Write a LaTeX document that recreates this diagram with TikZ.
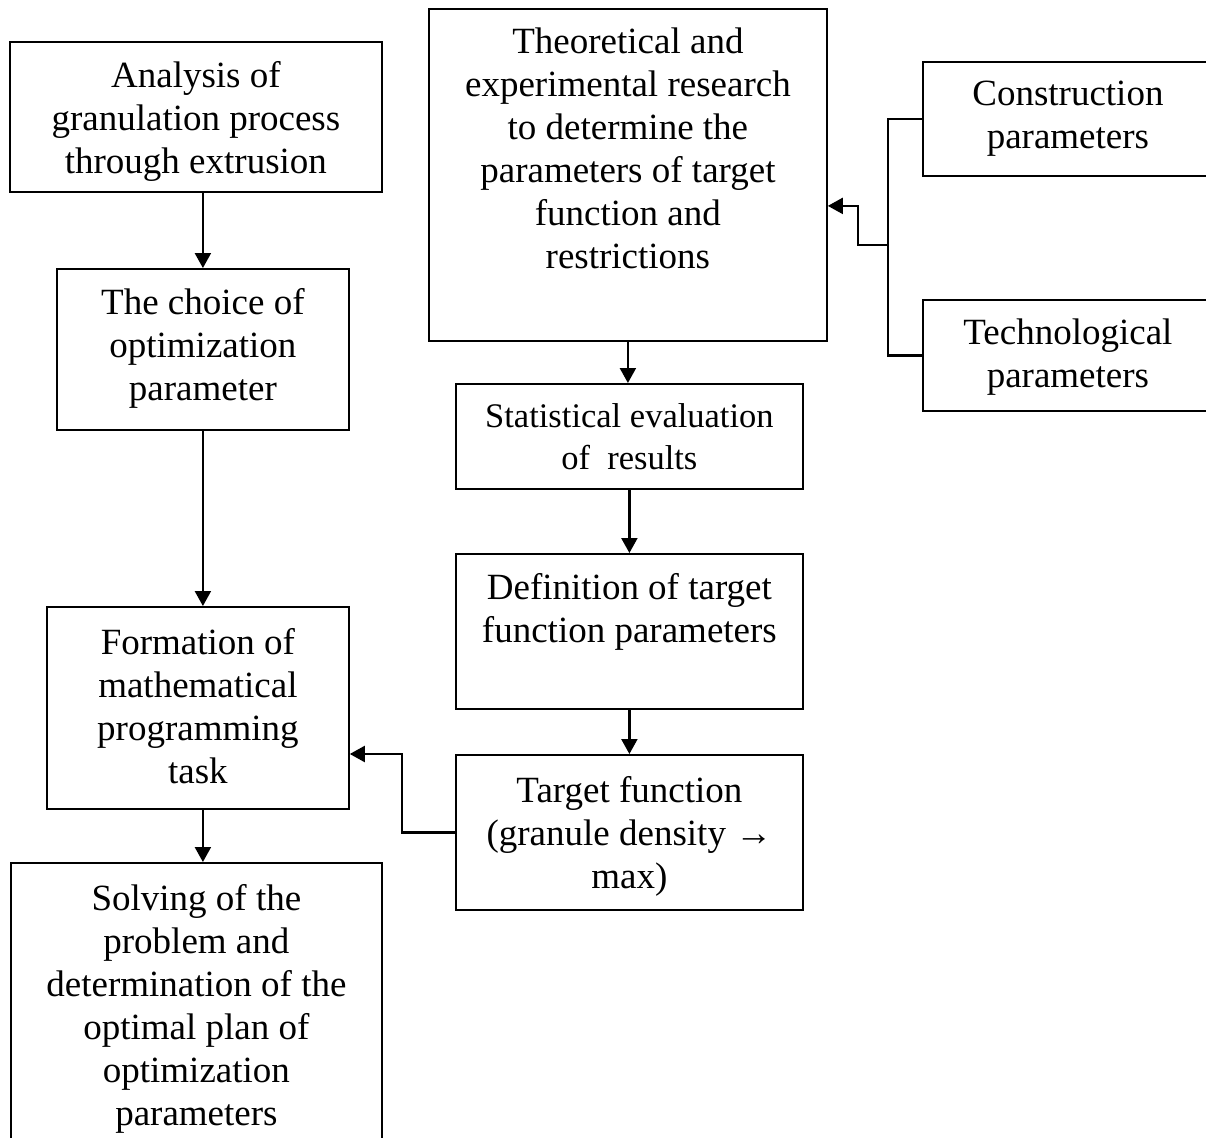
\documentclass[tikz,border=0pt]{standalone}
\usepackage{fontspec}
\setmainfont{Liberation Serif}
\usetikzlibrary{arrows.meta,calc}

\begin{document}
\begin{tikzpicture}[x=1pt, y=-1pt,
    box/.style={draw, line width=1.8pt, anchor=north west, inner sep=0pt},
    txt/.style={anchor=north, inner sep=0pt, align=center, yshift=-20pt,
      font=\fontsize{37}{43}\selectfont},
    small/.style={font=\fontsize{34.5}{42}\selectfont},
    arr/.style={line width=2.2pt, -{Triangle[length=15pt, width=16pt]}},
    link/.style={line width=2.2pt}]
    \useasboundingbox (0,0) rectangle (1206,1137);
    \clip (0,0) rectangle (1206,1137);

    % left column
    \node[box, minimum width=372pt, minimum height=150pt] (anal) at (9,41) {};
    \node[txt] (analT) at (anal.north) {Analysis of\\granulation process\\through extrusion};

    \node[box, minimum width=292pt, minimum height=161pt] (choice) at (56,268) {};
    \node[txt] (choiceT) at (choice.north) {The choice of\\optimization\\parameter};

    \node[box, minimum width=302pt, minimum height=202pt] (form) at (46,606) {};
    \node[txt, yshift=-2pt] (formT) at (form.north) {Formation of\\mathematical\\programming\\task};

    \node[box, minimum width=371pt, minimum height=290pt] (solv) at (10,862) {};
    \node[txt, yshift=-2pt] (solvT) at (solv.north) {Solving of the\\problem and\\determination of the\\optimal plan of\\optimization\\parameters};

    % middle column
    \node[box, minimum width=398pt, minimum height=332pt] (theo) at (428,8) {};
    \node[txt] (theoT) at (theo.north) {Theoretical and\\experimental research\\to determine the\\parameters of target\\function and\\restrictions};

    \node[box, minimum width=347pt, minimum height=105pt] (stat) at (455,383) {};
    \node[txt, small] (statT) at (stat.north) {Statistical evaluation\\of \ results};

    \node[box, minimum width=347pt, minimum height=155pt] (defn) at (455,553) {};
    \node[txt] (defnT) at (defn.north) {Definition of target\\function parameters};

    \node[box, minimum width=347pt, minimum height=155pt] (targ) at (455,754) {};
    \node[txt, yshift=-2pt] (targT) at (targ.north) {Target function\\(granule density →\\max)};

    % right column
    \node[box, minimum width=290pt, minimum height=114pt] (constr) at (922,61) {};
    \node[txt] (constrT) at (constr.north) {Construction\\parameters};

    \node[box, minimum width=290pt, minimum height=111pt] (tech) at (922,299) {};
    \node[txt] (techT) at (tech.north) {Technological\\parameters};

    \draw[arr] (choice.north |- anal.south) -- (choice.north);
    \draw[arr] (choice.south) -- (choice.south |- form.north);
    \draw[arr] (form.south -| choice.south) -- (choice.south |- solv.north);

    \draw[arr] (theo.south) -- (theo.south |- stat.north);
    \draw[arr] (stat.south) -- (defn.north);
    \draw[arr] (defn.south) -- (targ.north);
    \draw[arr] (targ.west) -- ++(-53,0) |- (form.east |- targ.north);

    \coordinate (join) at (888,245);
    \draw[link] (constr.west) -- ++(-34,0) |- (tech.west);
    \draw[arr] (join) -- ++(-30,0) |- ([yshift=-31pt]theo.east);
\end{tikzpicture}
\end{document}
